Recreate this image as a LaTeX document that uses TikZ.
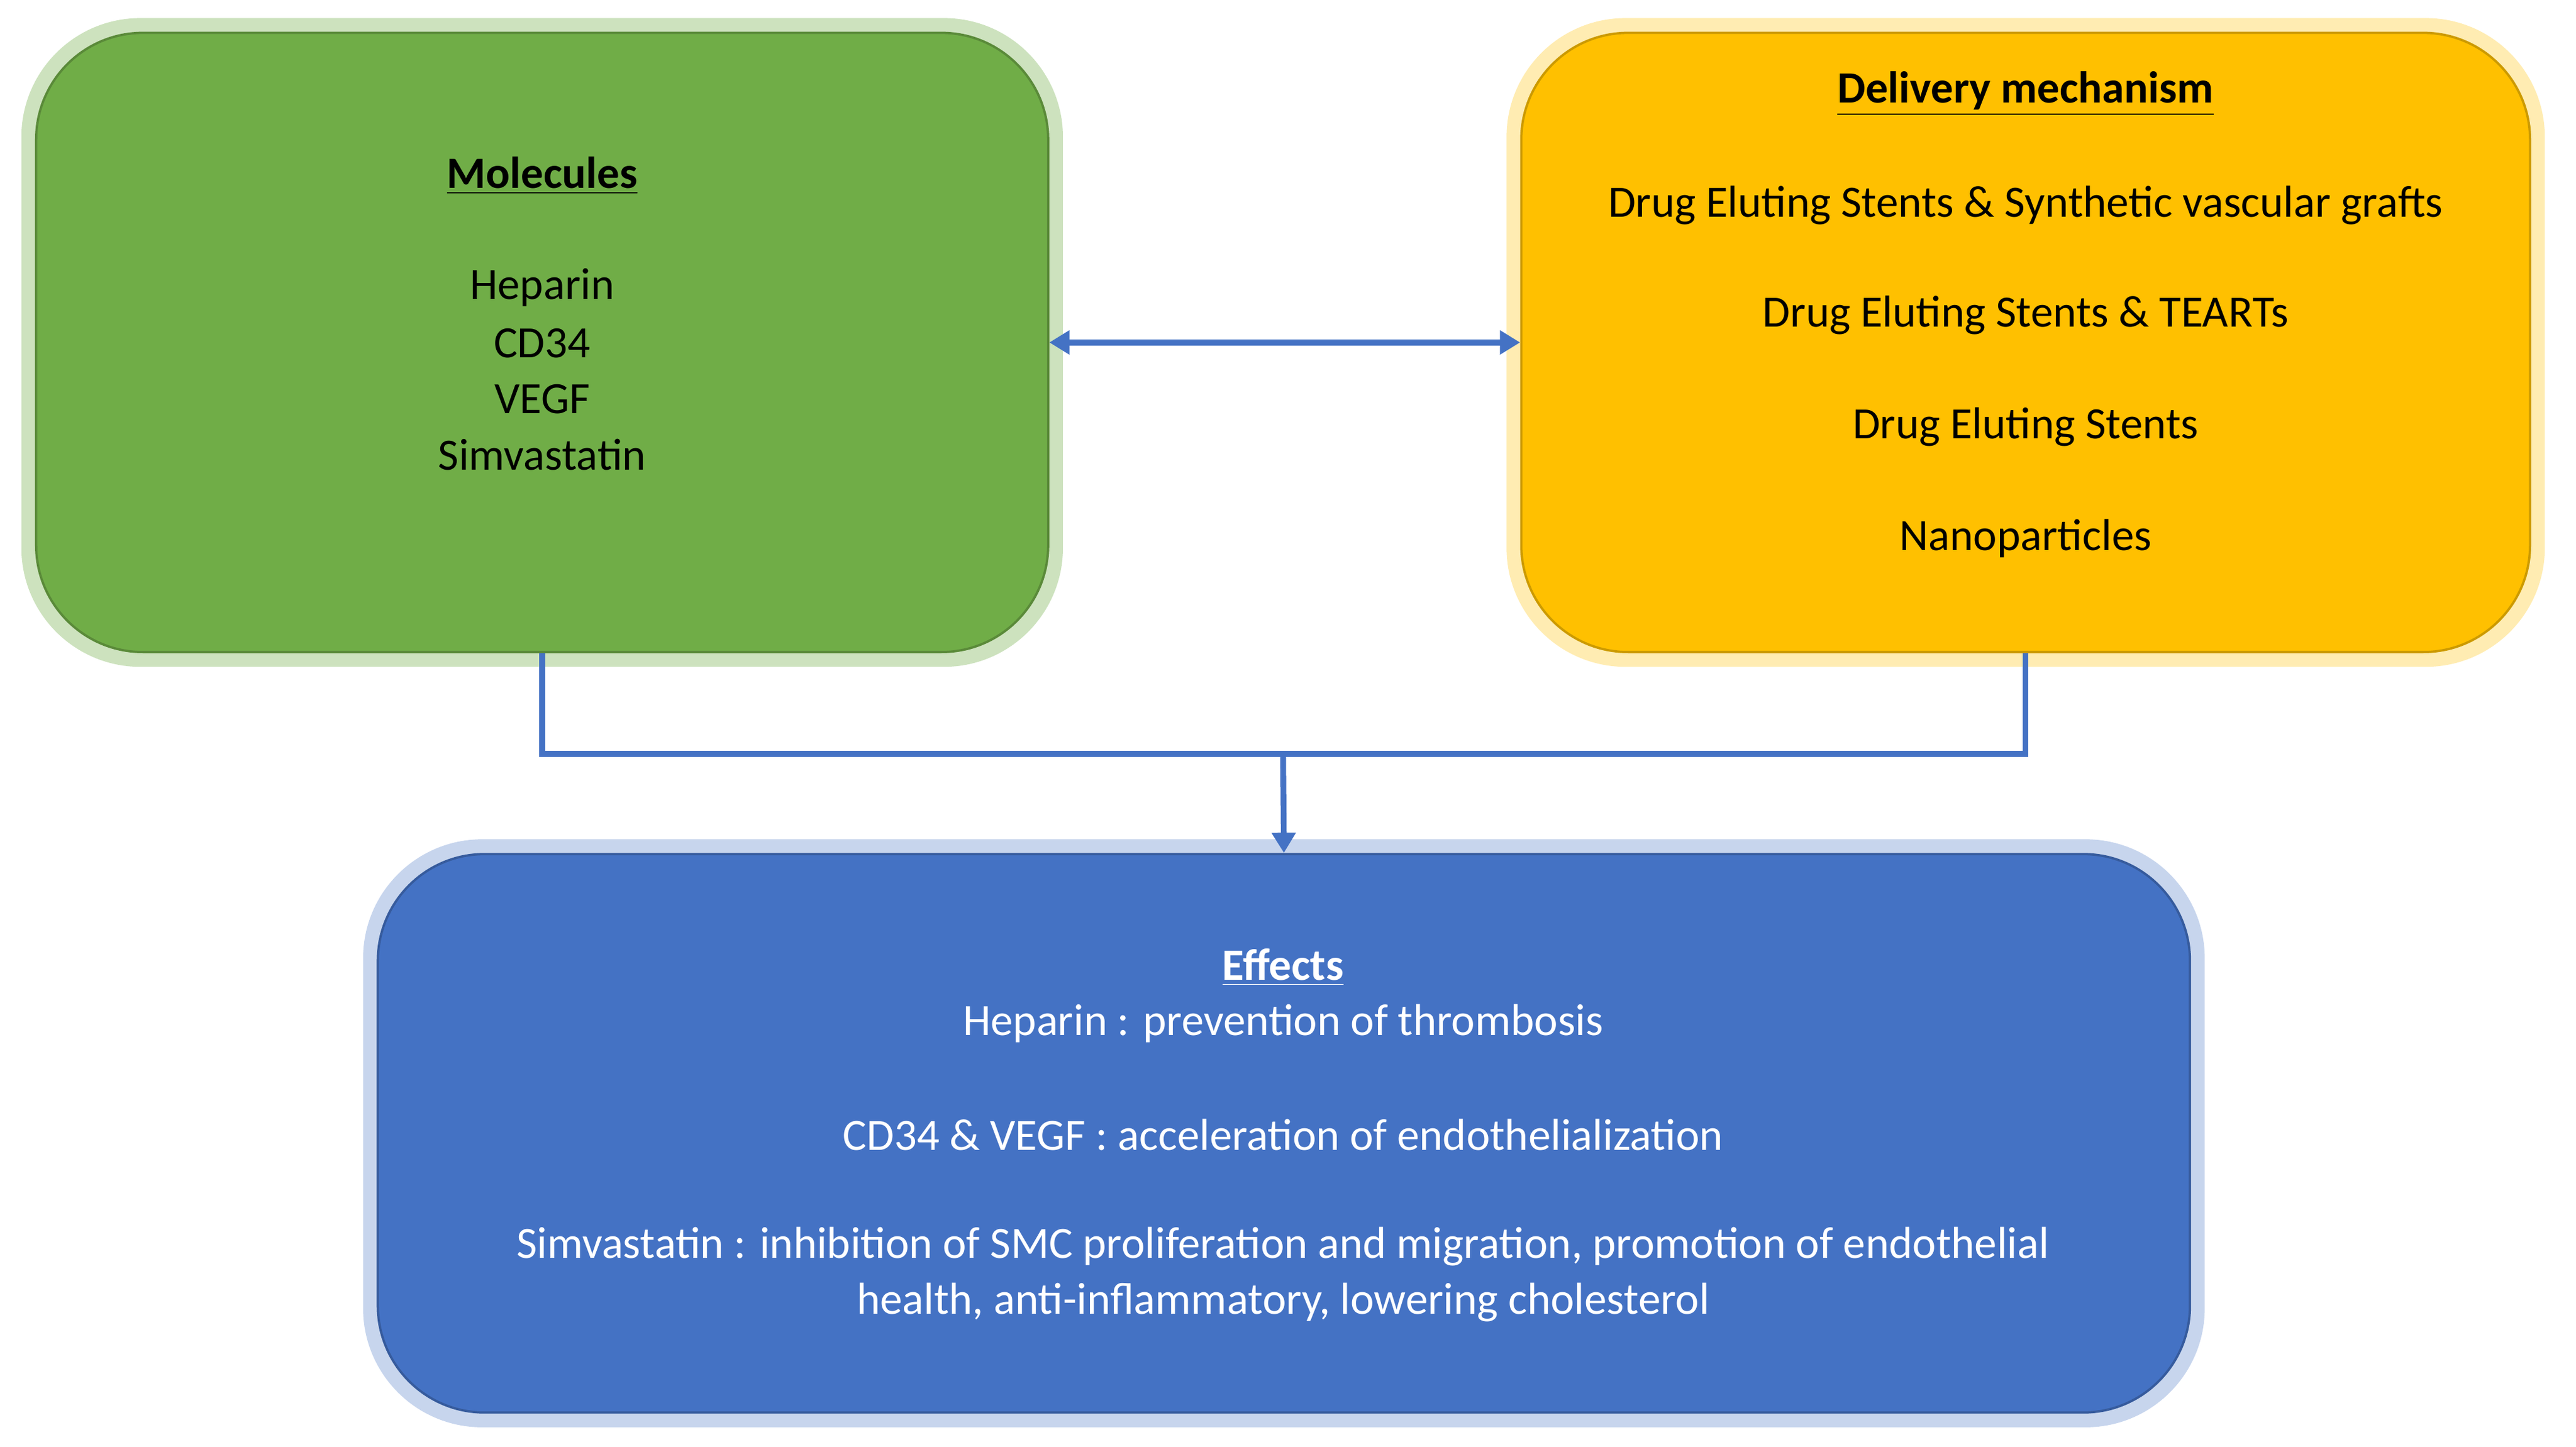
\documentclass[tikz,border=0pt]{standalone}
\usepackage{fontspec}
\setmainfont{Carlito}
\usetikzlibrary{arrows.meta}
\definecolor{cgreen}{HTML}{70AD47}
\definecolor{cyellow}{HTML}{FFC000}
\definecolor{cblue}{HTML}{4472C4}
\definecolor{cline}{HTML}{4472C4}
\begin{document}
\begin{tikzpicture}[x=0.02cm,y=-0.02cm,
  box/.style={rounded corners=1.3cm,inner sep=0pt,line width=0.8pt},
  txt/.style={font=\fontsize{15.5}{19}\selectfont,inner sep=0pt,anchor=center},
  conn/.style={draw=cline,line width=2pt},
  tip/.style={-{Triangle[length=7pt,width=8pt]}}]
\useasboundingbox (0,0) rectangle (1568,881);
% glows
\fill[cgreen!35,rounded corners=1.45cm] (13,11) rectangle (647,406);
\fill[cyellow!30,rounded corners=1.45cm] (917,11) rectangle (1549,406);
\fill[cblue!30,rounded corners=1.45cm] (221,511) rectangle (1342,869);
% boxes
\node[box,fill=cgreen,draw=cgreen!80!black,minimum width=616*0.02cm,minimum height=377*0.02cm] (mol) at (330,208.5) {};
\node[box,fill=cyellow,draw=cyellow!80!black,minimum width=614*0.02cm,minimum height=377*0.02cm] (del) at (1233,208.5) {};
\node[box,fill=cblue,draw=cblue!80!black,minimum width=1103*0.02cm,minimum height=340*0.02cm] (eff) at (781.5,690) {};
% texts
\node[txt,font=\fontsize{15.5}{19}\selectfont\bfseries] (t1) at (330,107) {\underline{Molecules}};
\node[txt] (m1) at (330,175) {Heparin};
\node[txt] (m2) at (330,209) {CD34};
\node[txt] (m3) at (330,243) {VEGF};
\node[txt] (m4) at (330,277) {Simvastatin};
\node[txt,font=\fontsize{15.5}{19}\selectfont\bfseries] (t2) at (1233,57) {\underline{Delivery mechanism}};
\node[txt] (d1) at (1233,125) {Drug Eluting Stents \& Synthetic vascular grafts};
\node[txt] (d2) at (1233,192) {Drug Eluting Stents \& TEARTs};
\node[txt] (d3) at (1233,260) {Drug Eluting Stents};
\node[txt] (d4) at (1233,328) {Nanoparticles};
\node[txt,white,font=\fontsize{15.5}{19}\selectfont\bfseries] (t3) at (781,589) {\underline{Effects}};
\node[txt,white] (e1) at (781,623) {Heparin : prevention of thrombosis};
\node[txt,white] (e2) at (781,691) {CD34 \& VEGF : acceleration of endothelialization};
\node[txt,white] (e3) at (781,759) {Simvastatin : inhibition of SMC proliferation and migration, promotion of endothelial};
\node[txt,white] (e4) at (781,793) {health, anti-inflammatory, lowering cholesterol};
% connectors
\draw[conn,{Triangle[length=7pt,width=8pt]}-{Triangle[length=7pt,width=8pt]}] (mol.east) -- (del.west);
\coordinate (j) at (781,459);
\draw[conn] (mol.south) |- (j);
\draw[conn] (del.south) |- (j);
\draw[conn,tip] (j) -- (eff.north);
\end{tikzpicture}
\end{document}
